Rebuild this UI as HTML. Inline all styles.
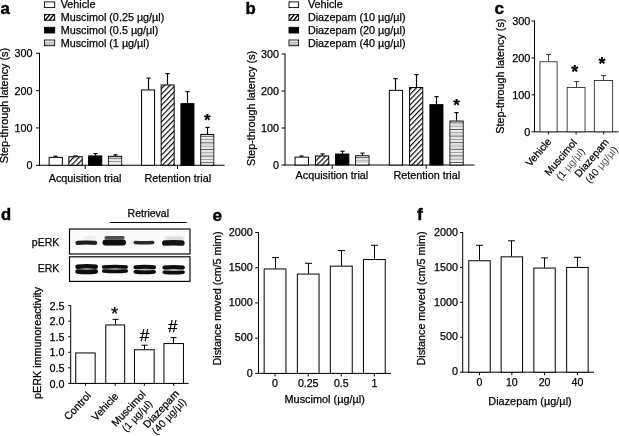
<!DOCTYPE html>
<html lang="en">
<head>
<meta charset="utf-8">
<title>Figure</title>
<style>
html,body{margin:0;padding:0;background:#fff;}
body{width:619px;height:436px;overflow:hidden;}
svg{display:block;will-change:transform;filter:grayscale(1);}
svg text{font-family:"Liberation Sans",sans-serif;fill:#000;stroke:#000;stroke-width:0.25px;}
</style>
</head>
<body>
<svg width="619" height="436" viewBox="0 0 619 436">
<defs>
<pattern id="hd" patternUnits="userSpaceOnUse" width="3.6" height="3.6" patternTransform="rotate(-46)">
<rect width="3.6" height="3.6" fill="#fff"/>
<rect x="0" y="0" width="3.6" height="1.15" fill="#000"/>
</pattern>
<pattern id="hda" patternUnits="userSpaceOnUse" width="3.85" height="3.85" patternTransform="rotate(-46)">
<rect width="3.85" height="3.85" fill="#fff"/>
<rect x="0" y="0" width="3.85" height="1.15" fill="#000"/>
</pattern>
<filter id="b1" filterUnits="userSpaceOnUse" x="60" y="225" width="140" height="60"><feGaussianBlur stdDeviation="0.75"/></filter>
<filter id="b2" filterUnits="userSpaceOnUse" x="60" y="225" width="140" height="60"><feGaussianBlur stdDeviation="1.0"/></filter>
</defs>
<rect width="619" height="436" fill="#fff"/>
<text x="0.50" y="14.00" font-size="16.8" text-anchor="start" font-weight="bold" style="stroke-width:0.45px">a</text>
<line x1="39.50" y1="52.80" x2="39.50" y2="165.75" stroke="#000" stroke-width="1.0"/>
<line x1="36.00" y1="165.25" x2="224.70" y2="165.25" stroke="#000" stroke-width="1.0"/>
<line x1="36.00" y1="127.93" x2="39.50" y2="127.93" stroke="#000" stroke-width="1.0"/>
<line x1="36.00" y1="90.62" x2="39.50" y2="90.62" stroke="#000" stroke-width="1.0"/>
<line x1="36.00" y1="53.30" x2="39.50" y2="53.30" stroke="#000" stroke-width="1.0"/>
<text x="32.60" y="169.25" font-size="10.8" text-anchor="end">0</text>
<text x="32.60" y="131.93" font-size="10.8" text-anchor="end">100</text>
<text x="32.60" y="94.62" font-size="10.8" text-anchor="end">200</text>
<text x="32.60" y="57.30" font-size="10.8" text-anchor="end">300</text>
<line x1="85.20" y1="165.25" x2="85.20" y2="169.05" stroke="#000" stroke-width="1.0"/>
<line x1="177.50" y1="165.25" x2="177.50" y2="169.05" stroke="#000" stroke-width="1.0"/>
<line x1="55.50" y1="156.20" x2="55.50" y2="157.00" stroke="#000" stroke-width="1.15"/>
<line x1="53.40" y1="156.20" x2="57.60" y2="156.20" stroke="#000" stroke-width="1.15"/>
<rect x="49.15" y="157.35" width="13.20" height="7.90" fill="#fff" stroke="#000" stroke-width="1.0"/>
<line x1="75.50" y1="155.90" x2="75.50" y2="156.40" stroke="#000" stroke-width="1.15"/>
<line x1="73.40" y1="155.90" x2="77.60" y2="155.90" stroke="#000" stroke-width="1.15"/>
<rect x="68.85" y="156.75" width="13.40" height="8.50" fill="url(#hda)" stroke="#000" stroke-width="1.0"/>
<line x1="95.50" y1="153.60" x2="95.50" y2="155.60" stroke="#000" stroke-width="1.15"/>
<line x1="93.40" y1="153.60" x2="97.60" y2="153.60" stroke="#000" stroke-width="1.15"/>
<rect x="88.55" y="155.95" width="13.20" height="9.30" fill="#000" stroke="#000" stroke-width="1.0"/>
<line x1="115.50" y1="154.80" x2="115.50" y2="156.00" stroke="#000" stroke-width="1.15"/>
<line x1="113.40" y1="154.80" x2="117.60" y2="154.80" stroke="#000" stroke-width="1.15"/>
<rect x="108.45" y="156.35" width="13.20" height="8.90" fill="#fff" stroke="#000" stroke-width="1.0"/>
<line x1="108.60" y1="158.20" x2="121.50" y2="158.20" stroke="#444" stroke-width="0.9"/>
<line x1="108.60" y1="159.85" x2="121.50" y2="159.85" stroke="#d0d0d0" stroke-width="0.9"/>
<line x1="108.60" y1="161.50" x2="121.50" y2="161.50" stroke="#888" stroke-width="0.9"/>
<line x1="108.60" y1="163.15" x2="121.50" y2="163.15" stroke="#d0d0d0" stroke-width="0.9"/>
<line x1="148.50" y1="78.10" x2="148.50" y2="89.60" stroke="#000" stroke-width="1.15"/>
<line x1="146.40" y1="78.10" x2="150.60" y2="78.10" stroke="#000" stroke-width="1.15"/>
<rect x="141.55" y="89.95" width="13.00" height="75.30" fill="#fff" stroke="#000" stroke-width="1.0"/>
<line x1="167.50" y1="73.60" x2="167.50" y2="84.60" stroke="#000" stroke-width="1.15"/>
<line x1="165.40" y1="73.60" x2="169.60" y2="73.60" stroke="#000" stroke-width="1.15"/>
<rect x="161.15" y="84.95" width="13.00" height="80.30" fill="url(#hda)" stroke="#000" stroke-width="1.0"/>
<line x1="187.50" y1="91.60" x2="187.50" y2="103.30" stroke="#000" stroke-width="1.15"/>
<line x1="185.40" y1="91.60" x2="189.60" y2="91.60" stroke="#000" stroke-width="1.15"/>
<rect x="180.95" y="103.65" width="13.00" height="61.60" fill="#000" stroke="#000" stroke-width="1.0"/>
<line x1="207.50" y1="127.40" x2="207.50" y2="134.10" stroke="#000" stroke-width="1.15"/>
<line x1="205.40" y1="127.40" x2="209.60" y2="127.40" stroke="#000" stroke-width="1.15"/>
<rect x="200.75" y="134.45" width="13.00" height="30.80" fill="#fff" stroke="#000" stroke-width="1.0"/>
<line x1="200.90" y1="136.30" x2="213.60" y2="136.30" stroke="#444" stroke-width="0.9"/>
<line x1="200.90" y1="137.95" x2="213.60" y2="137.95" stroke="#d0d0d0" stroke-width="0.9"/>
<line x1="200.90" y1="139.60" x2="213.60" y2="139.60" stroke="#888" stroke-width="0.9"/>
<line x1="200.90" y1="141.25" x2="213.60" y2="141.25" stroke="#d0d0d0" stroke-width="0.9"/>
<line x1="200.90" y1="142.90" x2="213.60" y2="142.90" stroke="#444" stroke-width="0.9"/>
<line x1="200.90" y1="144.55" x2="213.60" y2="144.55" stroke="#d0d0d0" stroke-width="0.9"/>
<line x1="200.90" y1="146.20" x2="213.60" y2="146.20" stroke="#888" stroke-width="0.9"/>
<line x1="200.90" y1="147.85" x2="213.60" y2="147.85" stroke="#d0d0d0" stroke-width="0.9"/>
<line x1="200.90" y1="149.50" x2="213.60" y2="149.50" stroke="#444" stroke-width="0.9"/>
<line x1="200.90" y1="151.15" x2="213.60" y2="151.15" stroke="#d0d0d0" stroke-width="0.9"/>
<line x1="200.90" y1="152.80" x2="213.60" y2="152.80" stroke="#888" stroke-width="0.9"/>
<line x1="200.90" y1="154.45" x2="213.60" y2="154.45" stroke="#d0d0d0" stroke-width="0.9"/>
<line x1="200.90" y1="156.10" x2="213.60" y2="156.10" stroke="#444" stroke-width="0.9"/>
<line x1="200.90" y1="157.75" x2="213.60" y2="157.75" stroke="#d0d0d0" stroke-width="0.9"/>
<line x1="200.90" y1="159.40" x2="213.60" y2="159.40" stroke="#888" stroke-width="0.9"/>
<line x1="200.90" y1="161.05" x2="213.60" y2="161.05" stroke="#d0d0d0" stroke-width="0.9"/>
<line x1="200.90" y1="162.70" x2="213.60" y2="162.70" stroke="#444" stroke-width="0.9"/>
<text x="85.00" y="181.70" font-size="10.8" text-anchor="middle">Acquisition trial</text>
<text x="177.80" y="181.70" font-size="10.8" text-anchor="middle">Retention trial</text>
<text x="7.80" y="163.20" font-size="10.8" text-anchor="start" transform="rotate(-90 7.80 163.20)">Step-through latency (s)</text>
<rect x="44.50" y="1.90" width="10.2" height="5.7" fill="#fff" stroke="#000" stroke-width="0.9"/>
<text x="60.70" y="7.55" font-size="10.8" text-anchor="start">Vehicle</text>
<clipPath id="lc44_1"><rect x="44.50" y="14.60" width="10.2" height="5.7"/></clipPath>
<rect x="44.50" y="14.60" width="10.2" height="5.7" fill="#fff"/>
<g clip-path="url(#lc44_1)">
<line x1="40.70" y1="20.80" x2="46.10" y2="14.10" stroke="#000" stroke-width="1.4"/>
<line x1="44.80" y1="20.80" x2="50.20" y2="14.10" stroke="#000" stroke-width="1.4"/>
<line x1="48.90" y1="20.80" x2="54.30" y2="14.10" stroke="#000" stroke-width="1.4"/>
<line x1="53.00" y1="20.80" x2="58.40" y2="14.10" stroke="#000" stroke-width="1.4"/>
<line x1="57.10" y1="20.80" x2="62.50" y2="14.10" stroke="#000" stroke-width="1.4"/>
</g>
<rect x="44.50" y="14.60" width="10.2" height="5.7" fill="none" stroke="#000" stroke-width="0.9"/>
<text x="60.70" y="20.55" font-size="10.8" text-anchor="start">Muscimol (0.25 µg/µl)</text>
<rect x="44.50" y="27.30" width="10.2" height="5.7" fill="#000" stroke="#000" stroke-width="0.9"/>
<text x="60.70" y="33.55" font-size="10.8" text-anchor="start">Muscimol (0.5 µg/µl)</text>
<rect x="44.50" y="40.00" width="10.2" height="5.7" fill="#fff" stroke="#000" stroke-width="0.9"/>
<line x1="44.90" y1="42.30" x2="54.30" y2="42.30" stroke="#999" stroke-width="0.9"/>
<line x1="44.90" y1="44.10" x2="54.30" y2="44.10" stroke="#888" stroke-width="0.9"/>
<text x="60.70" y="46.55" font-size="10.8" text-anchor="start">Muscimol (1 µg/µl)</text>
<text x="207.40" y="125.87" font-size="17" text-anchor="middle" font-weight="bold">*</text>
<text x="245.60" y="13.70" font-size="16.7" text-anchor="start" font-weight="bold" style="stroke-width:0.45px">b</text>
<line x1="285.00" y1="53.50" x2="285.00" y2="165.50" stroke="#000" stroke-width="1.0"/>
<line x1="281.50" y1="165.00" x2="474.50" y2="165.00" stroke="#000" stroke-width="1.0"/>
<line x1="281.50" y1="128.00" x2="285.00" y2="128.00" stroke="#000" stroke-width="1.0"/>
<line x1="281.50" y1="91.00" x2="285.00" y2="91.00" stroke="#000" stroke-width="1.0"/>
<line x1="281.50" y1="54.00" x2="285.00" y2="54.00" stroke="#000" stroke-width="1.0"/>
<text x="279.10" y="168.90" font-size="10.8" text-anchor="end">0</text>
<text x="279.10" y="131.90" font-size="10.8" text-anchor="end">100</text>
<text x="279.10" y="94.90" font-size="10.8" text-anchor="end">200</text>
<text x="279.10" y="57.90" font-size="10.8" text-anchor="end">300</text>
<line x1="332.20" y1="165.00" x2="332.20" y2="168.80" stroke="#000" stroke-width="1.0"/>
<line x1="426.20" y1="165.00" x2="426.20" y2="168.80" stroke="#000" stroke-width="1.0"/>
<line x1="301.50" y1="156.00" x2="301.50" y2="156.80" stroke="#000" stroke-width="1.15"/>
<line x1="299.40" y1="156.00" x2="303.60" y2="156.00" stroke="#000" stroke-width="1.15"/>
<rect x="295.05" y="157.15" width="13.40" height="7.85" fill="#fff" stroke="#000" stroke-width="1.0"/>
<line x1="322.50" y1="154.00" x2="322.50" y2="155.60" stroke="#000" stroke-width="1.15"/>
<line x1="320.40" y1="154.00" x2="324.60" y2="154.00" stroke="#000" stroke-width="1.15"/>
<rect x="315.45" y="155.95" width="13.30" height="9.05" fill="url(#hd)" stroke="#000" stroke-width="1.0"/>
<line x1="342.50" y1="151.20" x2="342.50" y2="153.70" stroke="#000" stroke-width="1.15"/>
<line x1="340.40" y1="151.20" x2="344.60" y2="151.20" stroke="#000" stroke-width="1.15"/>
<rect x="335.55" y="154.05" width="13.30" height="10.95" fill="#000" stroke="#000" stroke-width="1.0"/>
<line x1="362.50" y1="153.10" x2="362.50" y2="155.40" stroke="#000" stroke-width="1.15"/>
<line x1="360.40" y1="153.10" x2="364.60" y2="153.10" stroke="#000" stroke-width="1.15"/>
<rect x="355.55" y="155.75" width="13.40" height="9.25" fill="#fff" stroke="#000" stroke-width="1.0"/>
<line x1="355.70" y1="157.60" x2="368.80" y2="157.60" stroke="#444" stroke-width="0.9"/>
<line x1="355.70" y1="159.25" x2="368.80" y2="159.25" stroke="#d0d0d0" stroke-width="0.9"/>
<line x1="355.70" y1="160.90" x2="368.80" y2="160.90" stroke="#888" stroke-width="0.9"/>
<line x1="355.70" y1="162.55" x2="368.80" y2="162.55" stroke="#d0d0d0" stroke-width="0.9"/>
<line x1="395.50" y1="78.60" x2="395.50" y2="90.00" stroke="#000" stroke-width="1.15"/>
<line x1="393.40" y1="78.60" x2="397.60" y2="78.60" stroke="#000" stroke-width="1.15"/>
<rect x="389.35" y="90.35" width="13.20" height="74.65" fill="#fff" stroke="#000" stroke-width="1.0"/>
<line x1="416.50" y1="74.60" x2="416.50" y2="87.20" stroke="#000" stroke-width="1.15"/>
<line x1="414.40" y1="74.60" x2="418.60" y2="74.60" stroke="#000" stroke-width="1.15"/>
<rect x="409.55" y="87.55" width="13.20" height="77.45" fill="url(#hd)" stroke="#000" stroke-width="1.0"/>
<line x1="436.50" y1="96.60" x2="436.50" y2="104.30" stroke="#000" stroke-width="1.15"/>
<line x1="434.40" y1="96.60" x2="438.60" y2="96.60" stroke="#000" stroke-width="1.15"/>
<rect x="429.95" y="104.65" width="13.00" height="60.35" fill="#000" stroke="#000" stroke-width="1.0"/>
<line x1="456.50" y1="112.60" x2="456.50" y2="120.70" stroke="#000" stroke-width="1.15"/>
<line x1="454.40" y1="112.60" x2="458.60" y2="112.60" stroke="#000" stroke-width="1.15"/>
<rect x="449.95" y="121.05" width="13.20" height="43.95" fill="#fff" stroke="#000" stroke-width="1.0"/>
<line x1="450.10" y1="122.90" x2="463.00" y2="122.90" stroke="#444" stroke-width="0.9"/>
<line x1="450.10" y1="124.55" x2="463.00" y2="124.55" stroke="#d0d0d0" stroke-width="0.9"/>
<line x1="450.10" y1="126.20" x2="463.00" y2="126.20" stroke="#888" stroke-width="0.9"/>
<line x1="450.10" y1="127.85" x2="463.00" y2="127.85" stroke="#d0d0d0" stroke-width="0.9"/>
<line x1="450.10" y1="129.50" x2="463.00" y2="129.50" stroke="#444" stroke-width="0.9"/>
<line x1="450.10" y1="131.15" x2="463.00" y2="131.15" stroke="#d0d0d0" stroke-width="0.9"/>
<line x1="450.10" y1="132.80" x2="463.00" y2="132.80" stroke="#888" stroke-width="0.9"/>
<line x1="450.10" y1="134.45" x2="463.00" y2="134.45" stroke="#d0d0d0" stroke-width="0.9"/>
<line x1="450.10" y1="136.10" x2="463.00" y2="136.10" stroke="#444" stroke-width="0.9"/>
<line x1="450.10" y1="137.75" x2="463.00" y2="137.75" stroke="#d0d0d0" stroke-width="0.9"/>
<line x1="450.10" y1="139.40" x2="463.00" y2="139.40" stroke="#888" stroke-width="0.9"/>
<line x1="450.10" y1="141.05" x2="463.00" y2="141.05" stroke="#d0d0d0" stroke-width="0.9"/>
<line x1="450.10" y1="142.70" x2="463.00" y2="142.70" stroke="#444" stroke-width="0.9"/>
<line x1="450.10" y1="144.35" x2="463.00" y2="144.35" stroke="#d0d0d0" stroke-width="0.9"/>
<line x1="450.10" y1="146.00" x2="463.00" y2="146.00" stroke="#888" stroke-width="0.9"/>
<line x1="450.10" y1="147.65" x2="463.00" y2="147.65" stroke="#d0d0d0" stroke-width="0.9"/>
<line x1="450.10" y1="149.30" x2="463.00" y2="149.30" stroke="#444" stroke-width="0.9"/>
<line x1="450.10" y1="150.95" x2="463.00" y2="150.95" stroke="#d0d0d0" stroke-width="0.9"/>
<line x1="450.10" y1="152.60" x2="463.00" y2="152.60" stroke="#888" stroke-width="0.9"/>
<line x1="450.10" y1="154.25" x2="463.00" y2="154.25" stroke="#d0d0d0" stroke-width="0.9"/>
<line x1="450.10" y1="155.90" x2="463.00" y2="155.90" stroke="#444" stroke-width="0.9"/>
<line x1="450.10" y1="157.55" x2="463.00" y2="157.55" stroke="#d0d0d0" stroke-width="0.9"/>
<line x1="450.10" y1="159.20" x2="463.00" y2="159.20" stroke="#888" stroke-width="0.9"/>
<line x1="450.10" y1="160.85" x2="463.00" y2="160.85" stroke="#d0d0d0" stroke-width="0.9"/>
<line x1="450.10" y1="162.50" x2="463.00" y2="162.50" stroke="#444" stroke-width="0.9"/>
<text x="331.90" y="178.70" font-size="10.8" text-anchor="middle">Acquisition trial</text>
<text x="426.80" y="178.70" font-size="10.8" text-anchor="middle">Retention trial</text>
<text x="254.90" y="166.00" font-size="10.8" text-anchor="start" transform="rotate(-90 254.90 166.00)">Step-through latency (s)</text>
<rect x="289.00" y="1.90" width="9.6" height="5.7" fill="#fff" stroke="#000" stroke-width="0.9"/>
<text x="307.90" y="7.55" font-size="10.8" text-anchor="start">Vehicle</text>
<clipPath id="lc289_1"><rect x="289.00" y="14.60" width="9.6" height="5.7"/></clipPath>
<rect x="289.00" y="14.60" width="9.6" height="5.7" fill="#fff"/>
<g clip-path="url(#lc289_1)">
<line x1="285.20" y1="20.80" x2="290.60" y2="14.10" stroke="#000" stroke-width="1.4"/>
<line x1="289.30" y1="20.80" x2="294.70" y2="14.10" stroke="#000" stroke-width="1.4"/>
<line x1="293.40" y1="20.80" x2="298.80" y2="14.10" stroke="#000" stroke-width="1.4"/>
<line x1="297.50" y1="20.80" x2="302.90" y2="14.10" stroke="#000" stroke-width="1.4"/>
<line x1="301.60" y1="20.80" x2="307.00" y2="14.10" stroke="#000" stroke-width="1.4"/>
</g>
<rect x="289.00" y="14.60" width="9.6" height="5.7" fill="none" stroke="#000" stroke-width="0.9"/>
<text x="307.90" y="20.55" font-size="10.8" text-anchor="start">Diazepam (10 µg/µl)</text>
<rect x="289.00" y="27.30" width="9.6" height="5.7" fill="#000" stroke="#000" stroke-width="0.9"/>
<text x="307.90" y="33.55" font-size="10.8" text-anchor="start">Diazepam (20 µg/µl)</text>
<rect x="289.00" y="40.00" width="9.6" height="5.7" fill="#fff" stroke="#000" stroke-width="0.9"/>
<line x1="289.40" y1="42.30" x2="298.20" y2="42.30" stroke="#999" stroke-width="0.9"/>
<line x1="289.40" y1="44.10" x2="298.20" y2="44.10" stroke="#888" stroke-width="0.9"/>
<text x="307.90" y="46.55" font-size="10.8" text-anchor="start">Diazepam (40 µg/µl)</text>
<text x="456.50" y="111.07" font-size="17" text-anchor="middle" font-weight="bold">*</text>
<text x="494.40" y="13.60" font-size="17" text-anchor="start" font-weight="bold" style="stroke-width:0.45px">c</text>
<line x1="534.50" y1="20.50" x2="534.50" y2="132.30" stroke="#000" stroke-width="1.0"/>
<line x1="531.50" y1="131.80" x2="618.50" y2="131.80" stroke="#000" stroke-width="1.0"/>
<line x1="531.50" y1="94.87" x2="534.50" y2="94.87" stroke="#000" stroke-width="1.0"/>
<line x1="531.50" y1="57.93" x2="534.50" y2="57.93" stroke="#000" stroke-width="1.0"/>
<line x1="531.50" y1="21.00" x2="534.50" y2="21.00" stroke="#000" stroke-width="1.0"/>
<text x="530.30" y="135.50" font-size="10.9" text-anchor="end">0</text>
<text x="530.30" y="98.57" font-size="10.9" text-anchor="end">100</text>
<text x="530.30" y="61.63" font-size="10.9" text-anchor="end">200</text>
<text x="530.30" y="24.70" font-size="10.9" text-anchor="end">300</text>
<line x1="548.40" y1="131.80" x2="548.40" y2="134.30" stroke="#000" stroke-width="1.0"/>
<line x1="576.10" y1="131.80" x2="576.10" y2="134.30" stroke="#000" stroke-width="1.0"/>
<line x1="603.70" y1="131.80" x2="603.70" y2="134.30" stroke="#000" stroke-width="1.0"/>
<line x1="548.50" y1="54.50" x2="548.50" y2="61.40" stroke="#222" stroke-width="0.85"/>
<line x1="545.90" y1="54.50" x2="551.10" y2="54.50" stroke="#222" stroke-width="0.85"/>
<rect x="539.95" y="61.75" width="17.20" height="70.05" fill="#fff" stroke="#222" stroke-width="0.85"/>
<line x1="576.50" y1="81.50" x2="576.50" y2="87.10" stroke="#222" stroke-width="0.85"/>
<line x1="573.90" y1="81.50" x2="579.10" y2="81.50" stroke="#222" stroke-width="0.85"/>
<rect x="567.15" y="87.45" width="17.90" height="44.35" fill="#fff" stroke="#222" stroke-width="0.85"/>
<line x1="603.50" y1="75.60" x2="603.50" y2="80.20" stroke="#222" stroke-width="0.85"/>
<line x1="600.90" y1="75.60" x2="606.10" y2="75.60" stroke="#222" stroke-width="0.85"/>
<rect x="594.35" y="80.55" width="18.30" height="51.25" fill="#fff" stroke="#222" stroke-width="0.85"/>
<text x="504.30" y="133.80" font-size="10.8" text-anchor="start" transform="rotate(-90 504.30 133.80)">Step-through latency (s)</text>
<text x="574.80" y="77.98" font-size="18" text-anchor="middle" font-weight="bold">*</text>
<text x="601.90" y="69.98" font-size="18" text-anchor="middle" font-weight="bold">*</text>
<text x="552.00" y="141.70" font-size="10.4" text-anchor="end" transform="rotate(-50 552.00 141.70)">Vehicle</text>
<text x="563.40" y="159.70" font-size="10.4" text-anchor="middle" transform="rotate(-50 563.40 159.70)">Muscimol</text>
<text x="573.20" y="166.30" font-size="10.4" text-anchor="middle" transform="rotate(-50 573.20 166.30)" style="stroke-width:0">(1 <tspan fill="#555">µg/µl</tspan>)</text>
<text x="594.40" y="160.20" font-size="10.4" text-anchor="middle" transform="rotate(-50 594.40 160.20)">Diazepam</text>
<text x="604.20" y="166.80" font-size="10.4" text-anchor="middle" transform="rotate(-50 604.20 166.80)" style="stroke-width:0">(40 <tspan fill="#555">µg/µl</tspan>)</text>
<text x="0.90" y="220.20" font-size="16.6" text-anchor="start" font-weight="bold" style="stroke-width:0.45px">d</text>
<text x="148.30" y="216.80" font-size="10.5" text-anchor="middle">Retrieval</text>
<line x1="109.80" y1="222.50" x2="186.80" y2="222.50" stroke="#000" stroke-width="1.0"/>
<text x="59.30" y="246.20" font-size="10.5" text-anchor="end">pERK</text>
<text x="59.30" y="271.80" font-size="10.5" text-anchor="end">ERK</text>
<rect x="69.5" y="229.0" width="120.5" height="25.0" fill="#fbfbfb" stroke="#000" stroke-width="1.15"/>
<rect x="69.5" y="256.8" width="120.5" height="24.6" fill="#fbfbfb" stroke="#000" stroke-width="1.15"/>
<path d="M77.5,242.80 Q86.3,242.20 95.2,242.80" fill="none" stroke="#0a0a0a" stroke-width="4.2" stroke-linecap="round" opacity="0.92" filter="url(#b1)"/>
<path d="M105.5,242.60 Q114.2,242.60 123.0,242.60" fill="none" stroke="#0a0a0a" stroke-width="6.0" stroke-linecap="round" opacity="1.0" filter="url(#b1)"/>
<path d="M106.1,237.60 Q114.5,237.60 123.0,237.60" fill="none" stroke="#0a0a0a" stroke-width="3.2" stroke-linecap="round" opacity="0.72" filter="url(#b1)"/>
<path d="M130.3,242.80 Q132.8,242.80 135.2,242.80" fill="none" stroke="#0a0a0a" stroke-width="1.6" stroke-linecap="round" opacity="0.12" filter="url(#b2)"/>
<path d="M135.3,242.50 Q143.9,242.90 152.6,242.50" fill="none" stroke="#0a0a0a" stroke-width="3.6" stroke-linecap="round" opacity="0.88" filter="url(#b1)"/>
<path d="M164.9,243.00 Q173.3,242.60 181.8,243.00" fill="none" stroke="#0a0a0a" stroke-width="5.6" stroke-linecap="round" opacity="0.97" filter="url(#b1)"/>
<path d="M166.2,238.20 Q174.2,238.20 182.3,238.20" fill="none" stroke="#0a0a0a" stroke-width="2.4" stroke-linecap="round" opacity="0.2" filter="url(#b2)"/>
<path d="M85.0,237.80 Q90.0,237.80 95.0,237.80" fill="none" stroke="#0a0a0a" stroke-width="2.0" stroke-linecap="round" opacity="0.12" filter="url(#b2)"/>
<path d="M78.4,269.00 Q86.7,269.00 94.9,269.00" fill="none" stroke="#0a0a0a" stroke-width="2.2" stroke-linecap="round" opacity="0.45" filter="url(#b2)"/>
<path d="M77.5,266.70 Q86.7,265.50 95.8,266.70" fill="none" stroke="#0a0a0a" stroke-width="4.4" stroke-linecap="round" opacity="1.0" filter="url(#b1)"/>
<path d="M77.5,271.40 Q86.7,272.40 95.8,271.40" fill="none" stroke="#0a0a0a" stroke-width="4.5" stroke-linecap="round" opacity="1.0" filter="url(#b1)"/>
<path d="M105.0,269.00 Q115.0,269.00 124.9,269.00" fill="none" stroke="#0a0a0a" stroke-width="2.2" stroke-linecap="round" opacity="0.45" filter="url(#b2)"/>
<path d="M103.7,267.10 Q115.0,265.90 126.2,267.10" fill="none" stroke="#0a0a0a" stroke-width="3.5" stroke-linecap="round" opacity="1.0" filter="url(#b1)"/>
<path d="M103.8,271.00 Q115.0,272.00 126.2,271.00" fill="none" stroke="#0a0a0a" stroke-width="3.7" stroke-linecap="round" opacity="1.0" filter="url(#b1)"/>
<path d="M136.6,269.50 Q144.8,269.50 152.9,269.50" fill="none" stroke="#0a0a0a" stroke-width="2.2" stroke-linecap="round" opacity="0.45" filter="url(#b2)"/>
<path d="M135.5,267.30 Q144.8,266.10 154.0,267.30" fill="none" stroke="#0a0a0a" stroke-width="4.0" stroke-linecap="round" opacity="1.0" filter="url(#b1)"/>
<path d="M135.4,271.80 Q144.8,272.80 154.1,271.80" fill="none" stroke="#0a0a0a" stroke-width="3.8" stroke-linecap="round" opacity="1.0" filter="url(#b1)"/>
<path d="M165.5,269.80 Q173.7,269.80 181.8,269.80" fill="none" stroke="#0a0a0a" stroke-width="2.2" stroke-linecap="round" opacity="0.45" filter="url(#b2)"/>
<path d="M164.4,267.50 Q173.7,266.30 182.9,267.50" fill="none" stroke="#0a0a0a" stroke-width="4.0" stroke-linecap="round" opacity="1.0" filter="url(#b1)"/>
<path d="M164.2,272.20 Q173.7,273.20 183.2,272.20" fill="none" stroke="#0a0a0a" stroke-width="3.5" stroke-linecap="round" opacity="1.0" filter="url(#b1)"/>
<line x1="70.70" y1="305.10" x2="70.70" y2="383.90" stroke="#000" stroke-width="1.0"/>
<line x1="68.20" y1="383.40" x2="188.50" y2="383.40" stroke="#000" stroke-width="1.0"/>
<line x1="68.20" y1="367.84" x2="70.70" y2="367.84" stroke="#000" stroke-width="1.0"/>
<line x1="68.20" y1="352.28" x2="70.70" y2="352.28" stroke="#000" stroke-width="1.0"/>
<line x1="68.20" y1="336.72" x2="70.70" y2="336.72" stroke="#000" stroke-width="1.0"/>
<line x1="68.20" y1="321.16" x2="70.70" y2="321.16" stroke="#000" stroke-width="1.0"/>
<line x1="68.20" y1="305.60" x2="70.70" y2="305.60" stroke="#000" stroke-width="1.0"/>
<text x="64.40" y="387.60" font-size="10.8" text-anchor="end">0.0</text>
<text x="64.40" y="372.04" font-size="10.8" text-anchor="end">0.5</text>
<text x="64.40" y="356.48" font-size="10.8" text-anchor="end">1.0</text>
<text x="64.40" y="340.92" font-size="10.8" text-anchor="end">1.5</text>
<text x="64.40" y="325.36" font-size="10.8" text-anchor="end">2.0</text>
<text x="64.40" y="309.80" font-size="10.8" text-anchor="end">2.5</text>
<rect x="75.75" y="352.95" width="19.40" height="30.45" fill="#fff" stroke="#000" stroke-width="1.0"/>
<line x1="85.45" y1="383.40" x2="85.45" y2="385.90" stroke="#000" stroke-width="1.0"/>
<line x1="115.50" y1="319.40" x2="115.50" y2="324.60" stroke="#000" stroke-width="1.0"/>
<line x1="112.50" y1="319.40" x2="118.50" y2="319.40" stroke="#000" stroke-width="1.0"/>
<rect x="105.75" y="324.95" width="18.90" height="58.45" fill="#fff" stroke="#000" stroke-width="1.0"/>
<line x1="115.20" y1="383.40" x2="115.20" y2="385.90" stroke="#000" stroke-width="1.0"/>
<line x1="144.50" y1="345.20" x2="144.50" y2="349.40" stroke="#000" stroke-width="1.0"/>
<line x1="141.50" y1="345.20" x2="147.50" y2="345.20" stroke="#000" stroke-width="1.0"/>
<rect x="134.45" y="349.75" width="19.70" height="33.65" fill="#fff" stroke="#000" stroke-width="1.0"/>
<line x1="144.30" y1="383.40" x2="144.30" y2="385.90" stroke="#000" stroke-width="1.0"/>
<line x1="173.50" y1="337.60" x2="173.50" y2="343.20" stroke="#000" stroke-width="1.0"/>
<line x1="170.50" y1="337.60" x2="176.50" y2="337.60" stroke="#000" stroke-width="1.0"/>
<rect x="163.95" y="343.55" width="19.50" height="39.85" fill="#fff" stroke="#000" stroke-width="1.0"/>
<line x1="173.70" y1="383.40" x2="173.70" y2="385.90" stroke="#000" stroke-width="1.0"/>
<text x="40.50" y="399.00" font-size="10.8" text-anchor="start" transform="rotate(-90 40.50 399.00)">pERK immunoreactivity</text>
<text x="114.70" y="319.92" font-size="18.5" text-anchor="middle">*</text>
<text x="144.60" y="340.50" font-size="17" text-anchor="middle">#</text>
<text x="172.70" y="332.40" font-size="17" text-anchor="middle">#</text>
<text x="91.60" y="396.10" font-size="10.5" text-anchor="end" transform="rotate(-47 91.60 396.10)">Control</text>
<text x="119.10" y="396.70" font-size="10.5" text-anchor="end" transform="rotate(-47 119.10 396.70)">Vehicle</text>
<text x="131.20" y="411.00" font-size="10.5" text-anchor="middle" transform="rotate(-47 131.20 411.00)">Muscimol</text>
<text x="139.60" y="418.30" font-size="10.5" text-anchor="middle" transform="rotate(-47 139.60 418.30)" style="stroke-width:0.12px">(1 µg/µl)</text>
<text x="163.60" y="411.50" font-size="10.5" text-anchor="middle" transform="rotate(-47 163.60 411.50)">Diazepam</text>
<text x="171.60" y="418.80" font-size="10.5" text-anchor="middle" transform="rotate(-47 171.60 418.80)" style="stroke-width:0.12px">(40 µg/µl)</text>
<text x="212.50" y="221.00" font-size="17.2" text-anchor="start" font-weight="bold" style="stroke-width:0.45px">e</text>
<line x1="258.50" y1="232.00" x2="258.50" y2="373.90" stroke="#000" stroke-width="1.0"/>
<line x1="255.20" y1="373.40" x2="391.00" y2="373.40" stroke="#000" stroke-width="1.0"/>
<line x1="255.20" y1="338.17" x2="258.50" y2="338.17" stroke="#000" stroke-width="1.0"/>
<line x1="255.20" y1="302.95" x2="258.50" y2="302.95" stroke="#000" stroke-width="1.0"/>
<line x1="255.20" y1="267.73" x2="258.50" y2="267.73" stroke="#000" stroke-width="1.0"/>
<line x1="255.20" y1="232.50" x2="258.50" y2="232.50" stroke="#000" stroke-width="1.0"/>
<text x="252.70" y="376.60" font-size="10.8" text-anchor="end">0</text>
<text x="252.70" y="341.37" font-size="10.8" text-anchor="end">500</text>
<text x="252.70" y="306.15" font-size="10.8" text-anchor="end">1000</text>
<text x="252.70" y="270.93" font-size="10.8" text-anchor="end">1500</text>
<text x="252.70" y="235.70" font-size="10.8" text-anchor="end">2000</text>
<line x1="275.50" y1="257.60" x2="275.50" y2="268.60" stroke="#000" stroke-width="1.0"/>
<line x1="272.00" y1="257.60" x2="279.00" y2="257.60" stroke="#000" stroke-width="1.0"/>
<rect x="264.15" y="268.95" width="21.80" height="104.45" fill="#fff" stroke="#000" stroke-width="1.0"/>
<line x1="275.05" y1="373.40" x2="275.05" y2="376.40" stroke="#000" stroke-width="1.0"/>
<text x="275.05" y="386.60" font-size="10.6" text-anchor="middle">0</text>
<line x1="308.50" y1="263.30" x2="308.50" y2="273.70" stroke="#000" stroke-width="1.0"/>
<line x1="305.00" y1="263.30" x2="312.00" y2="263.30" stroke="#000" stroke-width="1.0"/>
<rect x="297.35" y="274.05" width="21.70" height="99.35" fill="#fff" stroke="#000" stroke-width="1.0"/>
<line x1="308.20" y1="373.40" x2="308.20" y2="376.40" stroke="#000" stroke-width="1.0"/>
<text x="308.20" y="386.60" font-size="10.6" text-anchor="middle">0.25</text>
<line x1="341.50" y1="250.60" x2="341.50" y2="265.80" stroke="#000" stroke-width="1.0"/>
<line x1="338.00" y1="250.60" x2="345.00" y2="250.60" stroke="#000" stroke-width="1.0"/>
<rect x="330.35" y="266.15" width="21.90" height="107.25" fill="#fff" stroke="#000" stroke-width="1.0"/>
<line x1="341.30" y1="373.40" x2="341.30" y2="376.40" stroke="#000" stroke-width="1.0"/>
<text x="341.30" y="386.60" font-size="10.6" text-anchor="middle">0.5</text>
<line x1="374.50" y1="245.30" x2="374.50" y2="259.20" stroke="#000" stroke-width="1.0"/>
<line x1="371.00" y1="245.30" x2="378.00" y2="245.30" stroke="#000" stroke-width="1.0"/>
<rect x="363.45" y="259.55" width="21.80" height="113.85" fill="#fff" stroke="#000" stroke-width="1.0"/>
<line x1="374.35" y1="373.40" x2="374.35" y2="376.40" stroke="#000" stroke-width="1.0"/>
<text x="374.35" y="386.60" font-size="10.6" text-anchor="middle">1</text>
<text x="324.70" y="402.50" font-size="10.9" text-anchor="middle">Muscimol (µg/µl)</text>
<text x="220.80" y="365.50" font-size="10.78" text-anchor="start" transform="rotate(-90 220.80 365.50)">Distance moved (cm/5 mim)</text>
<text x="416.90" y="220.10" font-size="17.2" text-anchor="start" font-weight="bold" style="stroke-width:0.45px">f</text>
<line x1="462.70" y1="232.00" x2="462.70" y2="372.70" stroke="#000" stroke-width="1.0"/>
<line x1="460.00" y1="372.20" x2="594.00" y2="372.20" stroke="#000" stroke-width="1.0"/>
<line x1="460.00" y1="337.27" x2="462.70" y2="337.27" stroke="#000" stroke-width="1.0"/>
<line x1="460.00" y1="302.35" x2="462.70" y2="302.35" stroke="#000" stroke-width="1.0"/>
<line x1="460.00" y1="267.43" x2="462.70" y2="267.43" stroke="#000" stroke-width="1.0"/>
<line x1="460.00" y1="232.50" x2="462.70" y2="232.50" stroke="#000" stroke-width="1.0"/>
<text x="458.10" y="375.40" font-size="10.8" text-anchor="end">0</text>
<text x="458.10" y="340.47" font-size="10.8" text-anchor="end">500</text>
<text x="458.10" y="305.55" font-size="10.8" text-anchor="end">1000</text>
<text x="458.10" y="270.62" font-size="10.8" text-anchor="end">1500</text>
<text x="458.10" y="235.70" font-size="10.8" text-anchor="end">2000</text>
<line x1="479.50" y1="245.30" x2="479.50" y2="260.40" stroke="#000" stroke-width="1.0"/>
<line x1="476.00" y1="245.30" x2="483.00" y2="245.30" stroke="#000" stroke-width="1.0"/>
<rect x="468.75" y="260.75" width="21.50" height="111.45" fill="#fff" stroke="#000" stroke-width="1.0"/>
<line x1="479.50" y1="372.20" x2="479.50" y2="375.20" stroke="#000" stroke-width="1.0"/>
<text x="479.50" y="385.80" font-size="10.6" text-anchor="middle">0</text>
<line x1="511.50" y1="240.80" x2="511.50" y2="256.50" stroke="#000" stroke-width="1.0"/>
<line x1="508.00" y1="240.80" x2="515.00" y2="240.80" stroke="#000" stroke-width="1.0"/>
<rect x="501.15" y="256.85" width="21.40" height="115.35" fill="#fff" stroke="#000" stroke-width="1.0"/>
<line x1="511.85" y1="372.20" x2="511.85" y2="375.20" stroke="#000" stroke-width="1.0"/>
<text x="511.85" y="385.80" font-size="10.6" text-anchor="middle">10</text>
<line x1="544.50" y1="257.90" x2="544.50" y2="267.70" stroke="#000" stroke-width="1.0"/>
<line x1="541.00" y1="257.90" x2="548.00" y2="257.90" stroke="#000" stroke-width="1.0"/>
<rect x="533.85" y="268.05" width="21.40" height="104.15" fill="#fff" stroke="#000" stroke-width="1.0"/>
<line x1="544.55" y1="372.20" x2="544.55" y2="375.20" stroke="#000" stroke-width="1.0"/>
<text x="544.55" y="385.80" font-size="10.6" text-anchor="middle">20</text>
<line x1="577.50" y1="257.30" x2="577.50" y2="267.10" stroke="#000" stroke-width="1.0"/>
<line x1="574.00" y1="257.30" x2="581.00" y2="257.30" stroke="#000" stroke-width="1.0"/>
<rect x="566.65" y="267.45" width="21.50" height="104.75" fill="#fff" stroke="#000" stroke-width="1.0"/>
<line x1="577.40" y1="372.20" x2="577.40" y2="375.20" stroke="#000" stroke-width="1.0"/>
<text x="577.40" y="385.80" font-size="10.6" text-anchor="middle">40</text>
<text x="530.00" y="405.00" font-size="10.9" text-anchor="middle">Diazepam (µg/µl)</text>
<text x="425.40" y="365.50" font-size="10.78" text-anchor="start" transform="rotate(-90 425.40 365.50)">Distance moved (cm/5 mim)</text>
</svg>
</body>
</html>
